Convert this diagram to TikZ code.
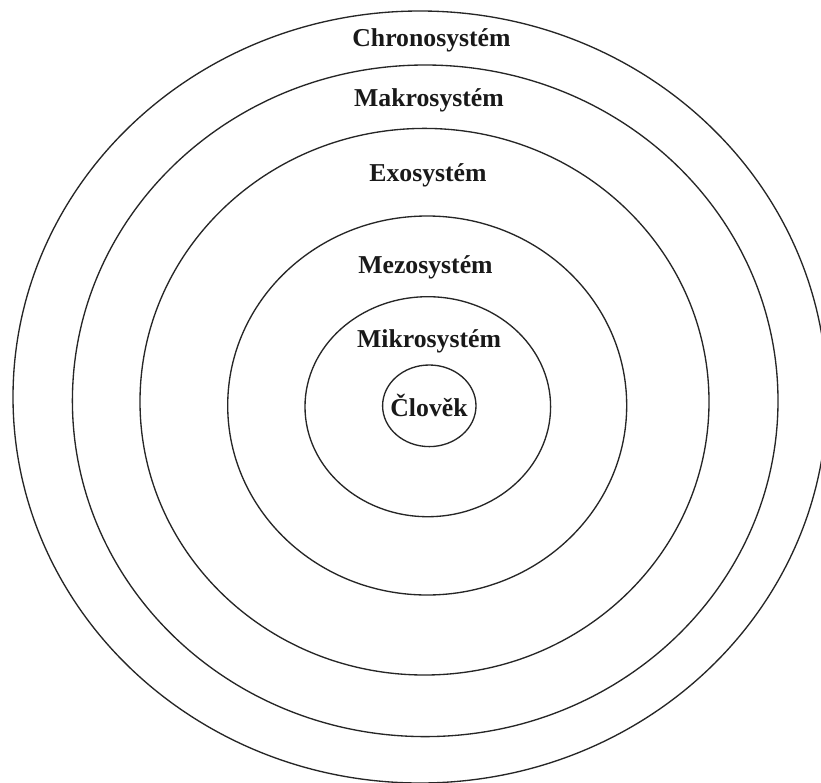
\documentclass[tikz,border=0pt]{standalone}
\usepackage{fontspec}
\setmainfont{Liberation Serif}
\begin{document}
\begin{tikzpicture}[x=0.75pt,y=-0.75pt,
  ring/.style={draw=black!85,line width=1pt},
  lbl/.style={anchor=base,inner sep=0pt,font=\fontsize{19.3}{22}\selectfont\bfseries,text=black!90}]
\clip (0,0) rectangle (821,782);
\fill[white] (0,0) rectangle (821,782);
\draw[ring] (420,397) ellipse [x radius=407, y radius=386];
\draw[ring] (425.2,400.8) ellipse [x radius=352.8, y radius=335.8];
\draw[ring] (424.5,401.7) ellipse [x radius=284.5, y radius=273.3];
\draw[ring] (427.2,405.5) ellipse [x radius=199.5, y radius=189.5];
\draw[ring] (427.8,406.7) ellipse [x radius=122.8, y radius=110];
\draw[ring] (429.3,405.8) ellipse [x radius=46.7, y radius=40.8];
\node[lbl] (chrono) at (431.5,46.5) {Chronosystém};
\node[lbl] (makro) at (429,106.5) {Makrosystém};
\node[lbl] (exo) at (428,181.5) {Exosystém};
\node[lbl] (mezo) at (425.5,273) {Mezosystém};
\node[lbl] (mikro) at (429,347) {Mikrosystém};
\node[lbl] (clovek) at (429,416) {Člověk};
\end{tikzpicture}
\end{document}
